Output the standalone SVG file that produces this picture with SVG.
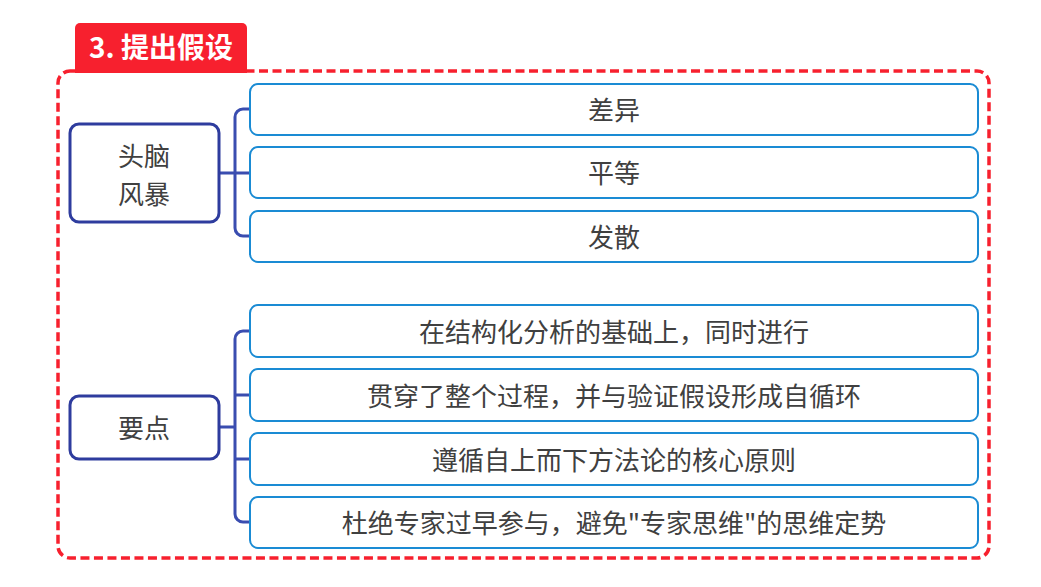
<svg xmlns="http://www.w3.org/2000/svg" width="1041" height="587" viewBox="0 0 1041 587">
<style>
.frame{fill:none;stroke:#f7202e;stroke-width:3.5;stroke-dasharray:9 4.5}
.main{fill:#fff;stroke:#2e3c9e;stroke-width:3}
.leaf{fill:#fff;stroke:#1a8bd4;stroke-width:2}
.conn{fill:none;stroke:#3a4db0;stroke-width:3;stroke-linejoin:round}
.t{font-family:"Noto Sans CJK SC","Liberation Sans",sans-serif;font-size:26px;fill:#404040;text-anchor:middle;dominant-baseline:central}
.title{font-family:"Noto Sans CJK SC","Liberation Sans",sans-serif;font-size:28px;font-weight:bold;fill:#fff;text-anchor:middle;dominant-baseline:central}
</style>
<rect width="1041" height="587" fill="#fff"/>
<g id="frame">
<rect class="frame" x="58" y="71" width="931" height="487" rx="12"/>
</g>
<g id="title">
<path d="M75,73 V28 a5,5 0 0 1 5,-5 H242 a5,5 0 0 1 5,5 V73 Z" fill="#f7202e"/>
<text class="title" x="161" y="46">3. 提出假设</text>
</g>
<g id="connectors">
<path class="conn" d="M219,173 H235 M250,109 H243 a8,8 0 0 0 -8,8 V228 a8,8 0 0 0 8,8 H250 M235,173 H250"/>
<path class="conn" d="M219,427 H235 M250,331 H243 a8,8 0 0 0 -8,8 V514 a8,8 0 0 0 8,8 H250 M235,395 H250 M235,459 H250"/>
</g>
<g id="brainstorm">
<rect class="main" x="70" y="124" width="149" height="98" rx="9"/>
<text class="t" x="144" y="154">头脑</text>
<text class="t" x="144" y="192">风暴</text>
</g>
<g id="b1"><rect class="leaf" x="250" y="84" width="728" height="51" rx="8"/><text class="t" x="614" y="108">差异</text></g>
<g id="b2"><rect class="leaf" x="250" y="147" width="728" height="51" rx="8"/><text class="t" x="614" y="171">平等</text></g>
<g id="b3"><rect class="leaf" x="250" y="211" width="728" height="51" rx="8"/><text class="t" x="614" y="235">发散</text></g>
<g id="points">
<rect class="main" x="70" y="396" width="149" height="63" rx="9"/>
<text class="t" x="144" y="426">要点</text>
</g>
<g id="p1"><rect class="leaf" x="250" y="305" width="728" height="52" rx="8"/><text class="t" x="614" y="330">在结构化分析的基础上，同时进行</text></g>
<g id="p2"><rect class="leaf" x="250" y="369" width="728" height="52" rx="8"/><text class="t" x="614" y="394">贯穿了整个过程，并与验证假设形成自循环</text></g>
<g id="p3"><rect class="leaf" x="250" y="433" width="728" height="52" rx="8"/><text class="t" x="614" y="458">遵循自上而下方法论的核心原则</text></g>
<g id="p4"><rect class="leaf" x="250" y="497" width="728" height="51" rx="8"/><text class="t" x="614" y="521">杜绝专家过早参与，避免"专家思维"的思维定势</text></g>
</svg>
